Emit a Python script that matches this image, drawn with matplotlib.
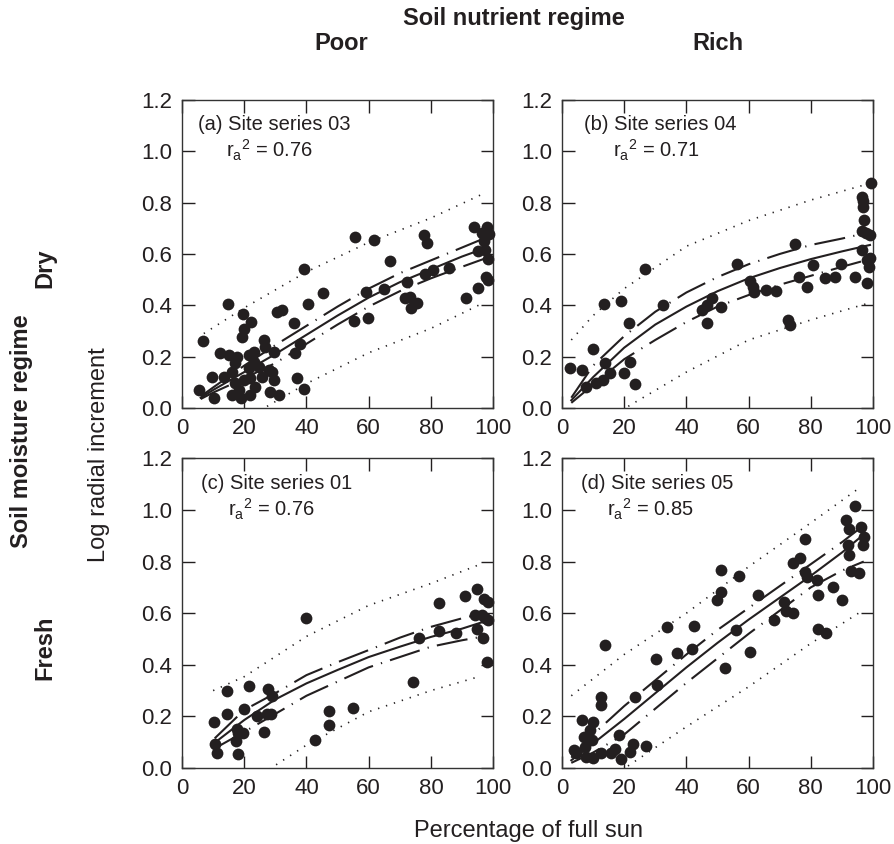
import numpy as np
import matplotlib
matplotlib.use('Agg')
from matplotlib import pyplot as plt

plt.rcParams['font.family'] = ['Liberation Sans', 'DejaVu Sans']
plt.rcParams['mathtext.fontset'] = 'custom'
plt.rcParams['mathtext.rm'] = 'Liberation Sans'

# ---- data ----
# (a) site series 03 (dry, poor)
a_x = [6.6, 5.4, 10.4, 9.6, 14.8, 19.6, 22.3, 19.8, 19.3, 12.3, 15, 17.7, 13.4, 16.1, 16.1, 18.8,
       22, 17.1, 19.8, 23, 23, 21.4, 24.7, 26.3, 26.8, 25.7, 28.4, 28.9, 29.5, 31.1, 30.5, 32.2,
       35.9, 36.4, 38, 36.8, 39.1, 40.5, 17.1, 21.4, 27.9, 18.2, 23.6, 22, 29.7, 39.3,
       45.2, 55.5, 55.4, 59, 59.9, 61.8, 65, 66.7, 72.3, 71.6, 73.3, 73.5, 75.6, 77.7, 78.9, 78,
       80.7, 85.9, 91.2, 95, 93.8, 97.9, 98.7, 96.5, 97.1, 95, 98.4, 97.6, 98.4, 97.3]
a_y = [0.262, 0.07, 0.038, 0.12, 0.404, 0.365, 0.336, 0.306, 0.278, 0.213, 0.206, 0.2, 0.122, 0.142,
       0.05, 0.038, 0.05, 0.096, 0.109, 0.22, 0.18, 0.155, 0.161, 0.265, 0.239, 0.122, 0.064, 0.142,
       0.109, 0.05, 0.375, 0.382, 0.332, 0.213, 0.248, 0.118, 0.073, 0.405, 0.174, 0.206, 0.148,
       0.07, 0.083, 0.115, 0.22, 0.54,
       0.447, 0.665, 0.34, 0.45, 0.352, 0.655, 0.464, 0.573, 0.49, 0.43, 0.434, 0.39, 0.41, 0.674,
       0.642, 0.52, 0.538, 0.544, 0.43, 0.469, 0.704, 0.704, 0.677, 0.68, 0.65, 0.613, 0.58, 0.51,
       0.5, 0.615]
a_fx = [6, 10, 20, 30, 40, 50, 60, 70, 80, 90, 98]
a_fit = [0.04, 0.07, 0.14, 0.21, 0.285, 0.36, 0.43, 0.49, 0.54, 0.59, 0.625]
a_ci_hi = [0.045, 0.08, 0.165, 0.245, 0.32, 0.395, 0.465, 0.525, 0.575, 0.625, 0.665]
a_ci_lo = [0.035, 0.06, 0.115, 0.175, 0.25, 0.325, 0.395, 0.455, 0.505, 0.55, 0.585]
a_pi_hi_x = [7, 20, 40, 60, 80, 96]
a_pi_hi = [0.29, 0.39, 0.53, 0.645, 0.74, 0.83]
a_pi_lo_x = [25, 40, 60, 80, 97]
a_pi_lo = [-0.01, 0.095, 0.215, 0.31, 0.41]

# (b) site series 04 (dry, rich)
b_x = [2.7, 6.4, 9.9, 13.7, 7.7, 10.9, 13.1, 15.5, 19.8, 22, 23.6, 21.4, 13.4, 19.1, 32.4, 26.7,
       44.9, 46.5, 48.1, 46.5, 51.1, 56.2, 60.5, 61.5, 61.8, 65.5, 68.7, 72.8, 73.3, 74.9, 76.3,
       78.9, 80.8, 84.6, 87.6, 89.7, 94.2, 98, 96.4, 96.4, 97.8, 99, 99, 98, 98.8, 97.2, 96.7,
       96.7, 96.4, 99.2]
b_y = [0.155, 0.148, 0.229, 0.174, 0.08, 0.096, 0.109, 0.135, 0.135, 0.18, 0.092, 0.332, 0.405,
       0.418, 0.40, 0.54, 0.38, 0.40, 0.43, 0.33, 0.395, 0.56, 0.495, 0.473, 0.45, 0.46, 0.457,
       0.343, 0.323, 0.639, 0.512, 0.473, 0.557, 0.508, 0.512, 0.561, 0.509, 0.488, 0.616, 0.69,
       0.68, 0.674, 0.583, 0.577, 0.548, 0.732, 0.784, 0.808, 0.823, 0.875]
b_fx = [3, 10, 20, 30, 40, 50, 60, 70, 80, 90, 99]
b_fit = [0.03, 0.12, 0.235, 0.325, 0.395, 0.455, 0.505, 0.545, 0.58, 0.61, 0.635]
b_ci_hi = [0.04, 0.165, 0.28, 0.375, 0.45, 0.51, 0.56, 0.60, 0.635, 0.66, 0.685]
b_ci_lo = [0.02, 0.09, 0.19, 0.265, 0.335, 0.395, 0.44, 0.48, 0.515, 0.55, 0.58]
b_pi_hi_x = [3, 10, 20, 40, 60, 80, 99]
b_pi_hi = [0.265, 0.36, 0.465, 0.63, 0.73, 0.81, 0.875]
b_pi_lo_x = [19, 40, 60, 80, 99]
b_pi_lo = [-0.01, 0.14, 0.265, 0.343, 0.41]

# (c) site series 01 (fresh, poor)
c_x = [10.3, 10.6, 11.1, 14.6, 14.6, 17.6, 18.1, 19.7, 17.4, 18.1, 20, 21.5, 24, 26.5, 27.2, 28.6,
       27.5, 28.8, 39.8, 42.8, 47.4, 47.1, 55.1, 74.1, 76.2, 82.6, 82.7, 88, 91, 94.7, 94.7,
       94.2, 96.4, 97.2, 98.3, 97.4, 98.5, 96.9, 98]
c_y = [0.18, 0.095, 0.057, 0.30, 0.21, 0.15, 0.134, 0.134, 0.105, 0.053, 0.23, 0.317, 0.203, 0.14,
       0.21, 0.21, 0.305, 0.28, 0.582, 0.108, 0.222, 0.166, 0.231, 0.332, 0.502, 0.64, 0.532,
       0.525, 0.667, 0.692, 0.537, 0.592, 0.592, 0.653, 0.644, 0.58, 0.573, 0.502, 0.41]
c_fx = [10.5, 20, 30, 40, 50, 60, 70, 80, 90, 97]
c_fit = [0.098, 0.186, 0.266, 0.328, 0.38, 0.43, 0.47, 0.508, 0.54, 0.567]
c_ci_hi = [0.115, 0.225, 0.29, 0.36, 0.41, 0.457, 0.505, 0.547, 0.58, 0.60]
c_ci_lo = [0.076, 0.14, 0.21, 0.28, 0.335, 0.39, 0.43, 0.47, 0.495, 0.51]
c_pi_hi_x = [10, 20, 40, 60, 80, 96]
c_pi_hi = [0.30, 0.354, 0.51, 0.63, 0.715, 0.79]
c_pi_lo_x = [28, 40, 60, 80, 96]
c_pi_lo = [-0.005, 0.089, 0.218, 0.30, 0.356]

# (d) site series 05 (fresh, rich)
d_x = [3.8, 6.4, 9.9, 9.1, 7, 9.6, 7.5, 7.7, 9.9, 12.6, 12.6, 12.6, 15.9, 16.9, 18.4, 19.1, 22,
       22.7, 27, 23.6, 30.5, 13.8, 4.5, 30.2, 33.9, 37.1, 41.7, 42.4, 52.4, 49.7, 51, 51.1, 57,
       55.8, 60.5, 62.9, 68.2, 71.5, 72, 74.2, 74.2, 76.5, 78.1, 78.1, 78.9, 82.1, 82.4, 82.4,
       84.9, 87, 90.1, 91.9, 92.4, 91.3, 92.4, 94.2, 96, 97.1, 96.7, 93, 95.6]
d_y = [0.07, 0.186, 0.18, 0.147, 0.121, 0.108, 0.083, 0.044, 0.04, 0.057, 0.276, 0.244, 0.057,
       0.072, 0.128, 0.034, 0.063, 0.095, 0.085, 0.276, 0.321, 0.476, 0.057, 0.424, 0.547, 0.444,
       0.463, 0.551, 0.388, 0.65, 0.683, 0.766, 0.745, 0.534, 0.448, 0.672, 0.573, 0.644, 0.609,
       0.599, 0.795, 0.812, 0.889, 0.76, 0.741, 0.73, 0.672, 0.537, 0.525, 0.702, 0.65, 0.863,
       0.827, 0.96, 0.928, 1.015, 0.932, 0.895, 0.866, 0.764, 0.754]
d_fx = [3, 10, 20, 30, 40, 50, 60, 70, 80, 90, 97]
d_fit = [0.03, 0.095, 0.19, 0.29, 0.39, 0.485, 0.575, 0.66, 0.745, 0.835, 0.905]
d_ci_hi = [0.04, 0.13, 0.24, 0.34, 0.44, 0.535, 0.62, 0.705, 0.79, 0.875, 0.94]
d_ci_lo = [0.02, 0.06, 0.13, 0.23, 0.33, 0.425, 0.52, 0.61, 0.70, 0.765, 0.80]
d_pi_hi_x = [3, 20, 40, 60, 80, 95]
d_pi_hi = [0.28, 0.44, 0.60, 0.78, 0.95, 1.08]
d_pi_lo_x = [19, 40, 60, 80, 96]
d_pi_lo = [-0.01, 0.16, 0.315, 0.483, 0.605]

panels = [
    ('(a) Site series 03', '0.76', a_x, a_y, a_fx, a_fit, a_ci_hi, a_ci_lo, a_pi_hi_x, a_pi_hi, a_pi_lo_x, a_pi_lo),
    ('(b) Site series 04', '0.71', b_x, b_y, b_fx, b_fit, b_ci_hi, b_ci_lo, b_pi_hi_x, b_pi_hi, b_pi_lo_x, b_pi_lo),
    ('(c) Site series 01', '0.76', c_x, c_y, c_fx, c_fit, c_ci_hi, c_ci_lo, c_pi_hi_x, c_pi_hi, c_pi_lo_x, c_pi_lo),
    ('(d) Site series 05', '0.85', d_x, d_y, d_fx, d_fit, d_ci_hi, d_ci_lo, d_pi_hi_x, d_pi_hi, d_pi_lo_x, d_pi_lo),
]

# axes boxes [left, bottom, width, height] in figure fractions
boxes = [[0.2036, 0.5166, 0.348, 0.365], [0.6286, 0.5166, 0.348, 0.365],
         [0.2036, 0.090, 0.348, 0.367], [0.6286, 0.090, 0.348, 0.367]]
label_x = [0.05, 0.07, 0.06, 0.06]
r_x = [0.14, 0.163, 0.148, 0.145]

ink = '#231f20'
fig = plt.figure(figsize=(8.94, 8.44), dpi=100)

for i, p in enumerate(panels):
    name, r2, x, y, fx, fit, hi, lo, phx, ph, plx, pl = p
    ax = fig.add_axes(boxes[i])
    ax.plot(phx, ph, color=ink, lw=1.2, linestyle=(0, (0.8, 4.2)))
    ax.plot(plx, pl, color=ink, lw=1.2, linestyle=(0, (0.8, 4.2)))
    ax.plot(fx, hi, color=ink, lw=1.5, linestyle=(0, (15, 4, 0.6, 4)))
    ax.plot(fx, lo, color=ink, lw=1.5, linestyle=(0, (15, 4, 0.6, 4)))
    ax.plot(fx, fit, color=ink, lw=1.5)
    ax.scatter(x, y, s=72, color=ink, zorder=3, clip_on=False, linewidths=0)
    ax.set_xlim(0, 100)
    ax.set_ylim(0, 1.2)
    ax.set_xticks([0, 20, 40, 60, 80, 100])
    ax.set_yticks(np.arange(0, 1.21, 0.2))
    ax.set_yticklabels(['%.1f' % v for v in np.arange(0, 1.21, 0.2)])
    ax.tick_params(direction='in', length=9, width=1, top=True, right=True,
                   labelsize=16, colors=ink, pad=7)
    for s in ax.spines.values():
        s.set_linewidth(1)
        s.set_color('#333333')
    ax.text(label_x[i], 0.95, name, transform=ax.transAxes, fontsize=14.5,
            color=ink, va='top', ha='left')
    ax.text(r_x[i], 0.812, r'r$_\mathregular{a}$$^\mathregular{2}$ = ' + r2,
            transform=ax.transAxes, fontsize=14.5, color=ink, va='baseline', ha='left')

bold = dict(fontweight='bold', fontsize=17, color=ink)
fig.text(514 / 894, 1 - 19 / 844, 'Soil nutrient regime', ha='center', va='center', **bold)
fig.text(341 / 894, 1 - 43 / 844, 'Poor', ha='center', va='center', **bold)
fig.text(718 / 894, 1 - 43 / 844, 'Rich', ha='center', va='center', **bold)
fig.text(22 / 894, 1 - 431 / 844, 'Soil moisture regime', ha='center', va='center',
         rotation=90, **bold)
fig.text(45 / 894, 1 - 268 / 844, 'Dry', ha='center', va='center', rotation=90, **bold)
fig.text(45 / 894, 1 - 648 / 844, 'Fresh', ha='center', va='center', rotation=90, **bold)
fig.text(99 / 894, 1 - 455 / 844, 'Log radial increment', ha='center', va='center',
         rotation=90, fontsize=17, color=ink)
fig.text(528 / 894, 1 - 831 / 844, 'Percentage of full sun', ha='center', va='center',
         fontsize=17, color=ink)

fig.savefig('out.png', dpi=100)
